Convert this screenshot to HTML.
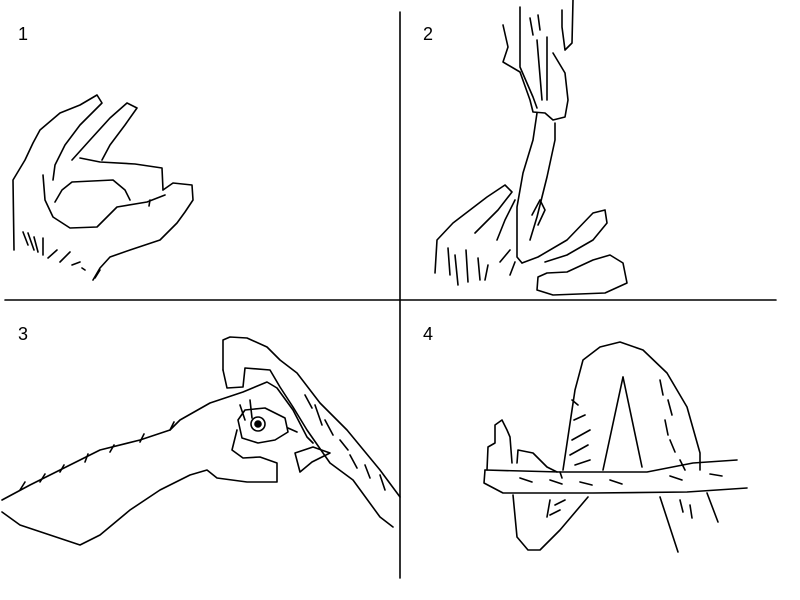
<!DOCTYPE html>
<html><head><meta charset="utf-8"><style>
html,body{margin:0;padding:0;background:#fff;width:800px;height:600px;overflow:hidden}
svg{display:block}
text{font-family:"Liberation Sans",sans-serif;font-size:18px;fill:#000}
</style></head><body>
<svg width="800" height="600" viewBox="0 0 800 600" xmlns="http://www.w3.org/2000/svg">
<g fill="none" stroke="#000" stroke-width="1.6" stroke-linejoin="round" stroke-linecap="round">
<line x1="400" y1="12" x2="400" y2="578"/>
<line x1="5" y1="300" x2="776" y2="300"/>

<!-- Panel 1 -->
<path d="M14,250 L13,180 L25,160 L33,143 L40,130 L60,113 L80,105 L97,95 L102,103 L80,125 L65,145 L55,165 L53,180"/>
<path d="M72,160 L90,140 L110,118 L127,103 L137,108 L125,125 L110,145 L102,160"/>
<path d="M80,158 L100,162 L135,164 L162,168 L163,190"/>
<path d="M163,190 L173,183 L192,185 L193,200 L185,212 L177,223 L160,240 L130,250 L110,257 L100,268 L93,280"/>
<path d="M43,175 L45,200 L53,217 L70,228 L97,227 L117,207 L147,202 L165,195"/>
<path d="M55,202 L62,190 L72,182 L113,180 L125,190 L130,200"/>
<path d="M150,200 L149,206"/>
<path d="M23,232 L28,245 M28,233 L34,250 M34,237 L38,252 M43,238 L43,255 M48,258 L57,250 M60,262 L70,252 M72,265 L80,262 M82,268 L85,270 M95,278 L100,270"/>

<!-- Panel 2 -->
<path d="M503,25 L508,47 L503,62 L520,72 L530,100 L533,112 L545,113 L553,120 L565,117 L568,100 L565,73 L553,53"/>
<path d="M573,0 L572,43 L565,50 L562,27 L562,10"/>
<path d="M520,7 L520,67 L533,97 L537,108 M537,40 L542,100 M547,37 L547,100 M530,18 L533,35 M538,15 L540,30"/>
<path d="M537,113 L533,140 L523,173 L517,207 L517,233 L517,257 L522,263"/>
<path d="M555,123 L555,140 L547,177 L537,217 L530,240"/>
<path d="M522,263 L538,257 L567,240 L593,213 L605,210 L607,223 L593,240 L567,255 L545,262"/>
<path d="M538,277 L537,290 L553,295 L605,293 L627,283 L623,263 L610,255 L593,260 L567,272 L547,273 Z"/>
<path d="M435,273 L437,240 L453,223 L487,197 L505,185 L512,192 L498,210 L480,228 L475,233"/>
<path d="M497,240 L505,220 L515,200"/>
<path d="M532,215 L540,200 L545,210 L538,225"/>
<path d="M448,248 L450,275 M455,255 L458,285 M466,250 L468,282 M478,258 L480,280 M488,265 L485,280 M500,262 L510,250 M510,275 L515,262"/>

<!-- Panel 3 -->
<path d="M2,500 L30,485 L60,470 L100,450 L140,440 L170,430 L180,420 L210,403 L243,392 L267,382 L277,388 L293,410 L307,437 L313,443"/>
<path d="M2,512 L20,525 L50,535 L80,545 L100,535 L130,510 L160,490 L190,475 L207,470 L217,478 L247,482 L277,482 L277,463 L260,457 L243,458 L232,450 L237,430"/>
<path d="M223,370 L223,340 L230,337 L247,338 L267,347 L280,360 L297,373 L320,403 L347,430 L380,470 L400,497"/>
<path d="M223,370 L227,388 L243,387 L245,368 L270,370 L280,387 L293,407 L307,430 L330,463 L353,480 L380,517 L393,527"/>
<path d="M295,453 L300,472 L312,462 L330,453 L313,447 Z"/>
<path d="M238,420 L245,410 L265,408 L285,418 L288,432 L275,440 L258,443 L242,438 Z"/>
<circle cx="258" cy="424" r="7"/>
<circle cx="258" cy="424" r="3" fill="#000"/>
<path d="M240,405 L245,420 M250,400 L252,418 M288,428 L297,432"/>
<path d="M20,490 L25,482 M40,482 L45,474 M60,472 L64,465 M85,462 L88,454 M110,452 L114,445 M140,442 L144,434 M170,430 L174,422 M305,395 L312,408 M315,405 L322,425 M325,420 L333,435 M340,440 L348,450 M350,455 L357,468 M365,465 L370,478 M380,475 L385,490"/>

<!-- Panel 4 -->
<path d="M563,470 L575,390 L583,360 L600,347 L620,342 L643,350 L667,373 L687,407 L700,453 L700,470"/>
<path d="M707,493 L718,522"/>
<path d="M623,377 L603,470"/>
<path d="M623,377 L642,467 M660,497 L678,552"/>
<path d="M550,500 L547,517 M560,472 L562,478"/>
<path d="M513,495 L517,537 L528,550 L540,550 L560,530 L588,497"/>
<path d="M487,470 L488,447 L495,443 L495,425 L502,420 L507,430 L510,437 L512,463"/>
<path d="M517,463 L518,450 L533,453 L547,467 L557,472"/>
<path d="M485,470 L560,472 L647,472 L693,463 L737,460"/>
<path d="M485,470 L484,483 L503,493 L593,493 L687,492 L747,488"/>
<path d="M572,400 L578,405 M574,420 L585,415 M572,440 L590,430 M570,455 L588,445 M575,465 L590,460 M660,380 L663,395 M668,400 L672,415 M665,420 L668,435 M670,440 L675,452 M680,460 L685,470 M680,500 L683,512 M690,505 L692,518 M555,505 L565,500 M550,515 L560,510 M520,478 L532,482 M550,480 L562,484 M580,482 L592,485 M610,480 L622,484 M670,476 L682,480 M710,474 L722,476"/>
</g>
<text x="18" y="40">1</text>
<text x="423" y="40">2</text>
<text x="18" y="340">3</text>
<text x="423" y="340">4</text>
</svg>
</body></html>
